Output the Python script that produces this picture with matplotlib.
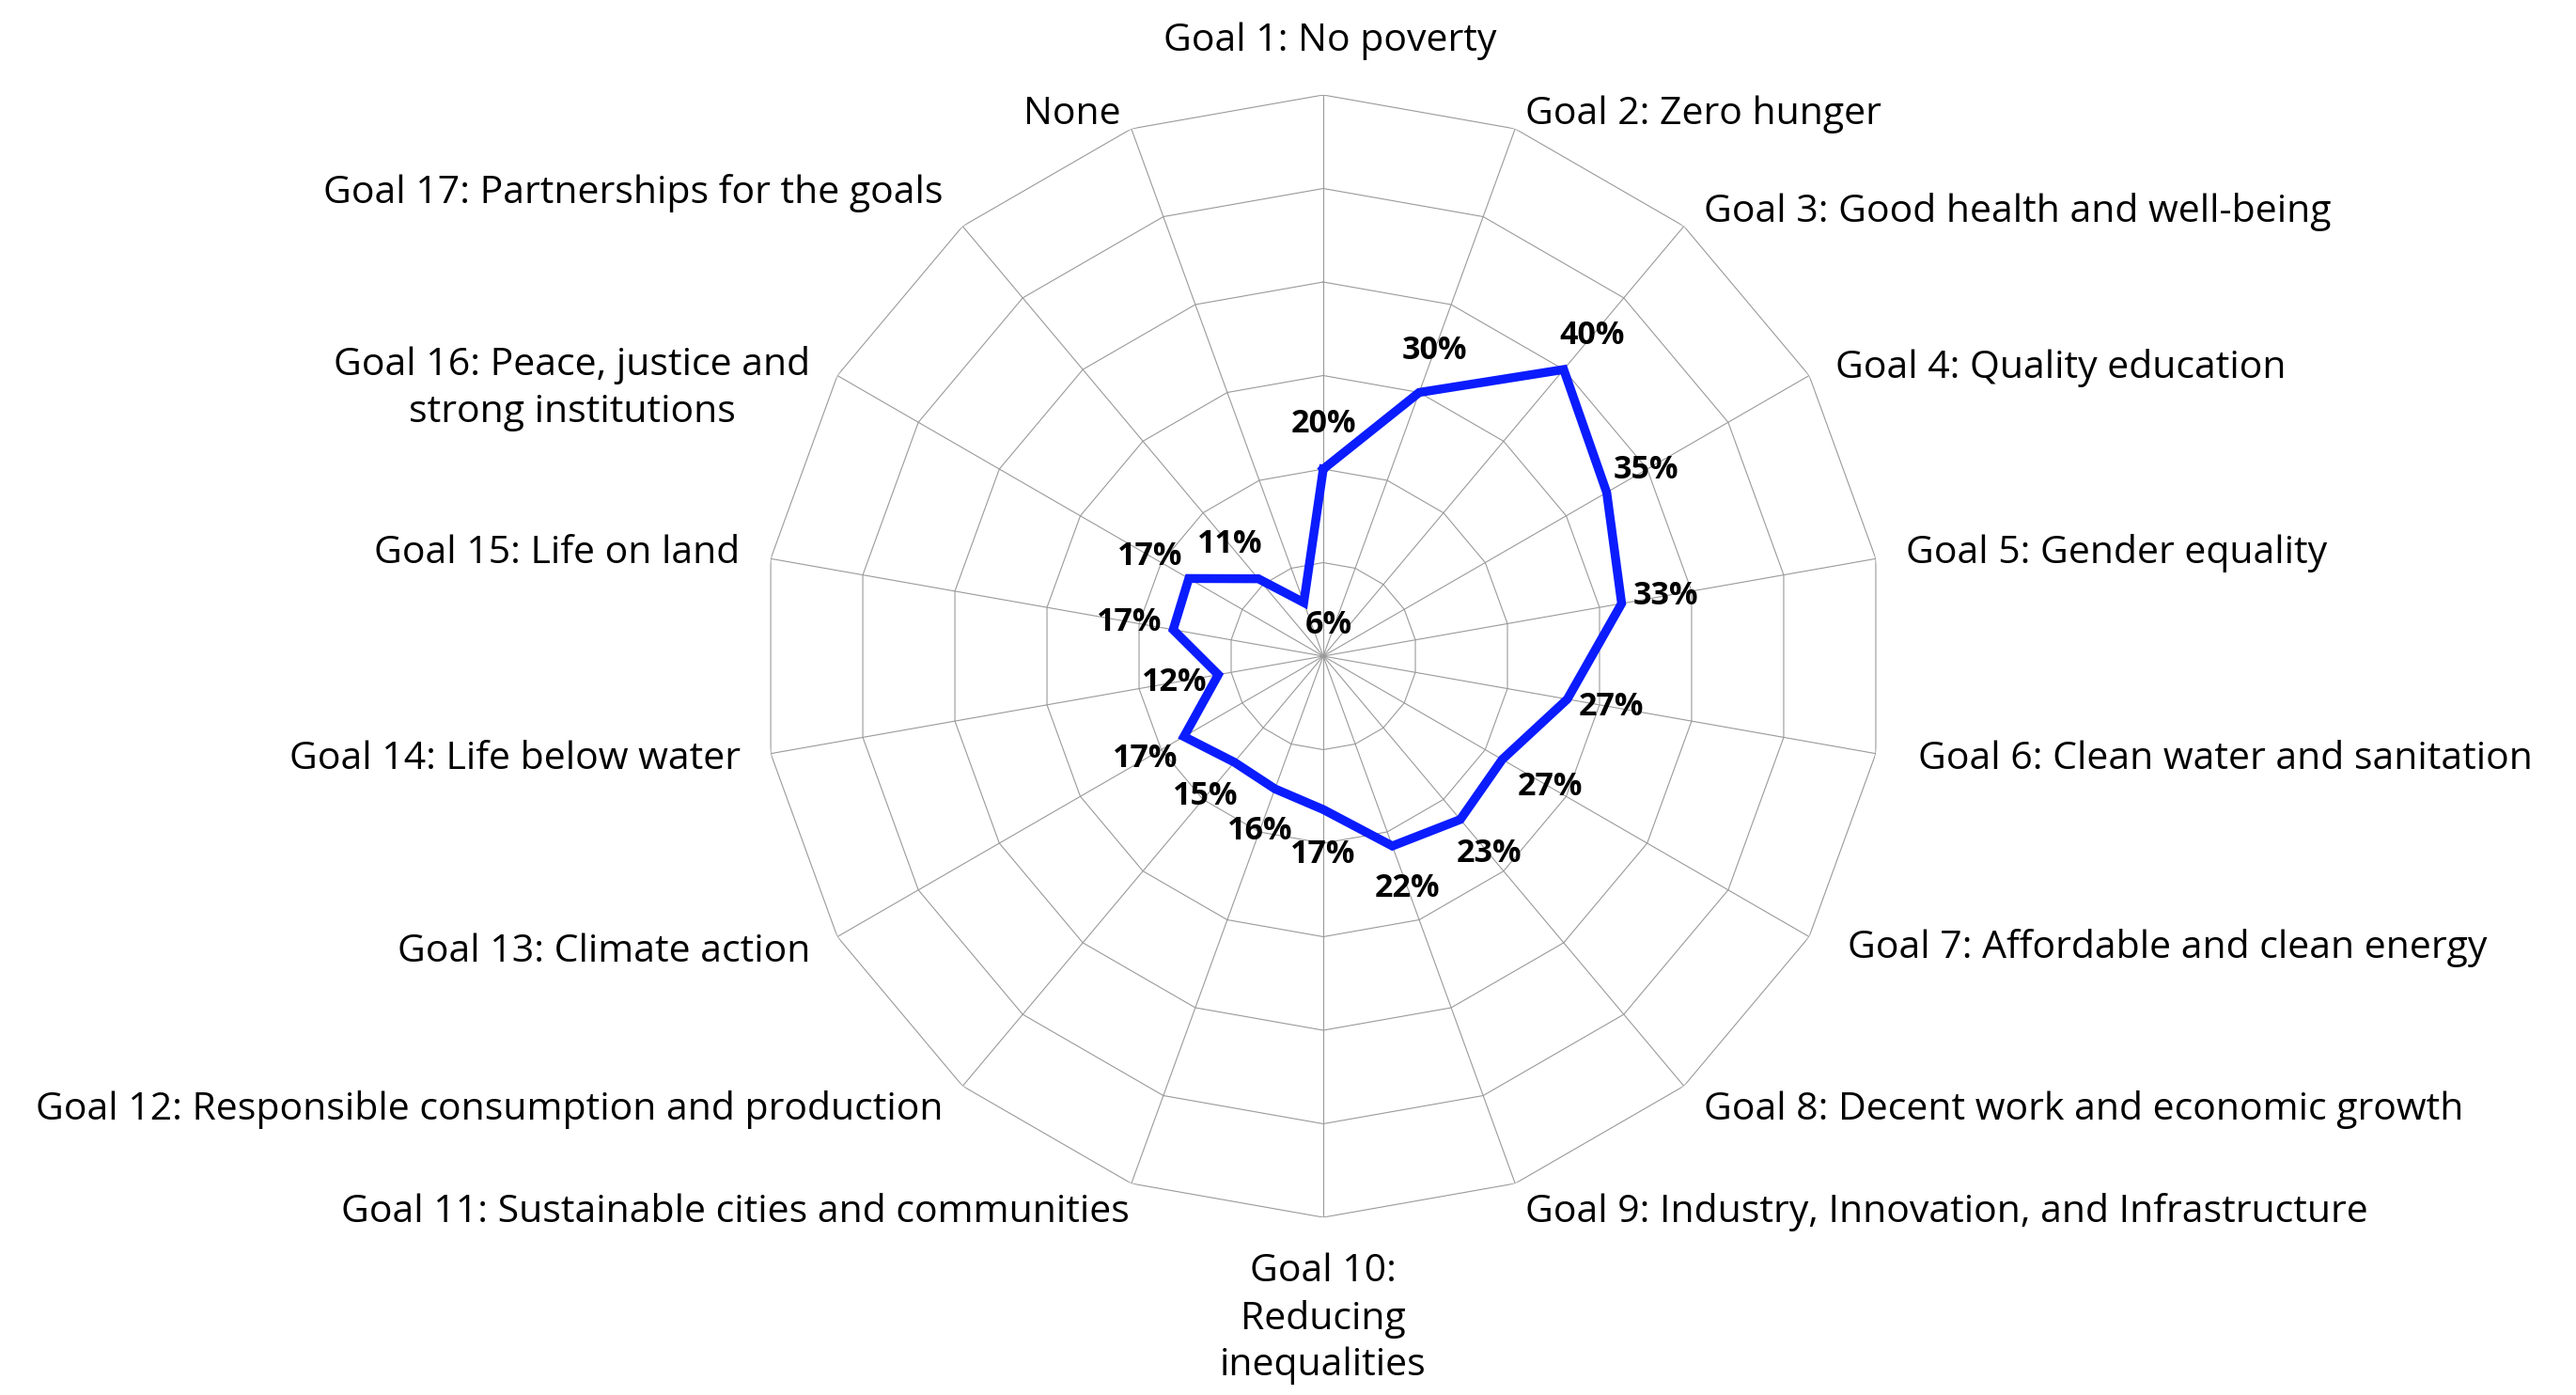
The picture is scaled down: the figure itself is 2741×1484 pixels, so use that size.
import numpy as np
import matplotlib
matplotlib.use("Agg")
import matplotlib.pyplot as plt

plt.rcParams['font.family'] = ['Open Sans', 'DejaVu Sans']

categories = [
    "Goal 1: No poverty",
    "Goal 2: Zero hunger",
    "Goal 3: Good health and well-being",
    "Goal 4: Quality education",
    "Goal 5: Gender equality",
    "Goal 6: Clean water and sanitation",
    "Goal 7: Affordable and clean energy",
    "Goal 8: Decent work and economic growth",
    "Goal 9: Industry, Innovation, and Infrastructure",
    "Goal 10:\nReducing\ninequalities",
    "Goal 11: Sustainable cities and communities",
    "Goal 12: Responsible consumption and production",
    "Goal 13: Climate action",
    "Goal 14: Life below water",
    "Goal 15: Life on land",
    "Goal 16: Peace, justice and\nstrong institutions",
    "Goal 17: Partnerships for the goals",
    "None",
]
# plotted values and the printed labels
values = [20, 30, 40, 35, 32.4, 26.5, 22.1, 22.8, 21.6, 16.4, 15.1, 14.8,
          17.2, 11.4, 16.3, 16.6, 10.8, 6.1]
value_labels = ["20%", "30%", "40%", "35%", "33%", "27%", "27%", "23%", "22%",
                "17%", "16%", "15%", "17%", "12%", "17%", "17%", "11%", "6%"]

rings = [10, 20, 30, 40, 50, 60]

n = len(categories)
theta = np.arange(n) * 2 * np.pi / n
theta_closed = np.append(theta, theta[0])

fig = plt.figure(figsize=(27.41, 14.84), dpi=100)
ax = fig.add_axes([0.29588, 0.12736, 0.43561, 0.80458], projection='polar')
ax.set_theta_zero_location('N')
ax.set_theta_direction(-1)
ax.set_ylim(0, 60)
ax.grid(False)
ax.set_xticks([])
ax.set_yticks([])
ax.spines['polar'].set_visible(False)

grid_color = '#9a9a9a'
for r in rings:
    ax.plot(theta_closed, [r] * (n + 1), color=grid_color, lw=0.8, zorder=1)
for t in theta:
    ax.plot([t, t], [0, rings[-1]], color=grid_color, lw=0.8, zorder=1)

vals_closed = values + values[:1]
ax.plot(theta_closed, vals_closed, color='#0b1cff', lw=6.8,
        solid_joinstyle='miter', zorder=3)

# data labels
label_r_override = {6: 28.0, 17: 3.4}
label_t_override = {17: np.deg2rad(9)}
for i, (t, v, lab) in enumerate(zip(theta, values, value_labels)):
    r = label_r_override.get(i, v + 4.8)
    tt = label_t_override.get(i, t)
    ax.text(tt, r, lab, fontsize=24.5, fontweight='bold', ha='center',
            va='center', color='black', zorder=4)

# category labels, small nudges in points
R = 63.3
fs = 29.5
nudge = {0: (5, -7), 1: (0, -11), 2: (0, -7), 3: (0, -6), 5: (9, 0),
         6: (9, 3), 10: (7, 0), 15: (0, -22), 16: (0, 7), 17: (0, -11)}
for i, (t, lab) in enumerate(zip(theta, categories)):
    s = np.sin(t)
    c = np.cos(t)
    dx, dy = nudge.get(i, (0, 0))
    if abs(s) < 0.05:
        ha = 'center'
        va = 'center' if c > 0 else 'top'
        r = 66.7 if c > 0 else 63.8
    else:
        ha = 'left' if s > 0 else 'right'
        va = 'center'
        r = R
    ax.annotate(lab, xy=(t, r), xytext=(dx, dy), textcoords='offset points',
                fontsize=fs, ha=ha, va=va, multialignment='center',
                linespacing=1.3, annotation_clip=False)

fig.savefig("out.png", dpi=100, facecolor='white')
